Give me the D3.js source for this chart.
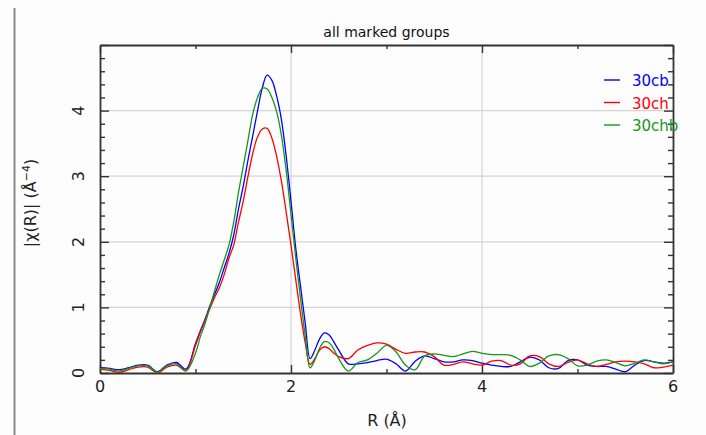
<!DOCTYPE html>
<html><head><meta charset="utf-8">
<script src="https://cdn.jsdelivr.net/npm/d3@7"></script>
<style>
html,body{margin:0;padding:0;background:#fdfdfd;}
svg{display:block;font-family:"DejaVu Sans",sans-serif;}
</style></head>
<body>
<svg id="c" width="706" height="435"></svg>
<script>
const title = "all marked groups";
const seriesNames = ["30cb", "30ch", "30chb"];
const seriesColors = ["#0000ff", "#ff0000", "#16961a"];
const xTicks = [0, 2, 4, 6];
const yTicks = [0, 1, 2, 3, 4];
const R = [0,0.1,0.2,0.3,0.4,0.5,0.6,0.7,0.8,0.9,1.0,
  1.05,1.1,1.15,1.2,1.25,1.3,1.35,1.4,1.45,1.5,1.55,1.6,1.65,1.7,1.75,1.8,1.85,1.9,1.95,2.0,
  2.05,2.1,2.15,2.2,2.25,2.3,2.35,2.4,2.45,2.5,
  2.6,2.7,2.8,2.9,3.0,3.1,3.2,3.3,3.4,3.5,3.6,3.7,3.8,3.9,4.0,
  4.1,4.2,4.3,4.4,4.5,4.6,4.7,4.8,4.9,5.0,5.1,5.2,5.3,5.4,5.5,5.6,5.7,5.8,5.9,6.0];
const cb = [0.08,0.07,0.05,0.08,0.12,0.12,0.02,0.12,0.16,0.06,0.45,
  0.64,0.82,1.02,1.2,1.38,1.6,1.82,2.1,2.5,2.85,3.25,3.62,4.0,4.35,4.54,4.46,4.22,3.86,3.3,2.62,
  1.9,1.32,0.75,0.22,0.35,0.52,0.61,0.58,0.47,0.35,
  0.14,0.14,0.16,0.19,0.21,0.14,0.03,0.18,0.26,0.22,0.17,0.17,0.2,0.19,0.15,
  0.12,0.10,0.10,0.17,0.24,0.2,0.08,0.07,0.19,0.2,0.12,0.10,0.10,0.06,0.02,0.12,0.19,0.17,0.15,0.17];
const ch = [0.06,0.04,0.01,0.05,0.09,0.09,0.0,0.09,0.12,0.04,0.42,
  0.62,0.8,0.98,1.15,1.3,1.5,1.75,1.95,2.3,2.62,3.0,3.35,3.6,3.72,3.73,3.58,3.3,2.92,2.45,1.95,
  1.42,0.9,0.45,0.13,0.22,0.35,0.40,0.37,0.3,0.25,
  0.22,0.35,0.42,0.46,0.44,0.36,0.30,0.32,0.32,0.25,0.12,0.13,0.17,0.14,0.12,
  0.18,0.19,0.12,0.14,0.26,0.25,0.14,0.10,0.16,0.2,0.14,0.10,0.13,0.17,0.18,0.17,0.14,0.08,0.09,0.12];
const chb = [0.07,0.06,0.03,0.07,0.11,0.11,0.01,0.11,0.14,0.03,0.3,
  0.55,0.75,1.0,1.25,1.5,1.72,1.95,2.3,2.75,3.15,3.55,3.95,4.2,4.34,4.33,4.2,3.98,3.62,3.08,2.42,
  1.75,1.13,0.55,0.08,0.2,0.38,0.48,0.46,0.36,0.22,
  0.03,0.16,0.2,0.3,0.42,0.32,0.12,0.05,0.26,0.29,0.27,0.25,0.29,0.33,0.3,
  0.28,0.28,0.27,0.2,0.1,0.15,0.26,0.28,0.22,0.11,0.12,0.18,0.2,0.16,0.11,0.15,0.2,0.17,0.14,0.17];
const seriesValues = [cb, ch, chb];

const svg = d3.select("#c");
const L = 100, T = 45, Rr = 673, B = 373;
const x = d3.scaleLinear().domain([0, 6]).range([L, Rr]);
const y = d3.scaleLinear().domain([0, 5]).range([B, T]);
const axisColor = "#333";

svg.append("line").attr("x1", 14.5).attr("x2", 14.5).attr("y1", 8).attr("y2", 435)
  .attr("stroke", "#8c8a80").attr("stroke-width", 2);

const g = svg.append("g");
g.selectAll(".gx").data(xTicks.filter(d => d > 0 && d < 6)).join("line")
  .attr("x1", d => x(d)).attr("x2", d => x(d)).attr("y1", T).attr("y2", B)
  .attr("stroke", "#d4d4d4").attr("stroke-width", 1.2);
g.selectAll(".gy").data(yTicks.filter(d => d > 0)).join("line")
  .attr("x1", L).attr("x2", Rr).attr("y1", d => y(d)).attr("y2", d => y(d))
  .attr("stroke", "#d4d4d4").attr("stroke-width", 1.2);

const yMinor = d3.range(0, 5.01, 0.2).map(v => +v.toFixed(1));
function styleAxis(sel) {
  sel.select(".domain").attr("stroke", axisColor).attr("stroke-width", 1.8);
  sel.selectAll(".tick line").attr("stroke", axisColor).attr("stroke-width", 1.4);
}
const ay = svg.append("g").attr("transform", `translate(${L},0)`)
  .call(d3.axisRight(y).tickValues(yMinor).tickSize(5).tickSizeOuter(0).tickFormat(""));
ay.selectAll(".tick line").attr("x2", d => Number.isInteger(d) ? 9 : 5);
styleAxis(ay);
const ay2 = svg.append("g").attr("transform", `translate(${Rr},0)`)
  .call(d3.axisLeft(y).tickValues(yMinor).tickSize(5).tickSizeOuter(0).tickFormat(""));
ay2.selectAll(".tick line").attr("x2", d => Number.isInteger(d) ? -9 : -5);
styleAxis(ay2);
const ax = svg.append("g").attr("transform", `translate(0,${B})`)
  .call(d3.axisTop(x).tickValues([0,1,2,3,4,5,6]).tickSize(4).tickSizeOuter(0).tickFormat(""));
ax.selectAll(".tick line").attr("y2", d => d % 2 === 0 ? -8 : -4);
styleAxis(ax);
const ax2 = svg.append("g").attr("transform", `translate(0,${T})`)
  .call(d3.axisBottom(x).tickValues([0,1,2,3,4,5,6]).tickSize(4).tickSizeOuter(0).tickFormat(""));
ax2.selectAll(".tick line").attr("y2", d => d % 2 === 0 ? 8 : 4);
styleAxis(ax2);

svg.append("g").selectAll("text").data(xTicks).join("text")
  .attr("x", d => x(d)).attr("y", 392).attr("text-anchor", "middle")
  .attr("font-size", 16).attr("fill", "#222").text(d => d);
svg.append("g").selectAll("text").data(yTicks).join("text")
  .attr("transform", d => `translate(84,${y(d)}) rotate(-90)`)
  .attr("text-anchor", "middle").attr("font-size", 16).attr("fill", "#222").text(d => d);

svg.append("text").attr("x", (L + Rr) / 2).attr("y", 37).attr("text-anchor", "middle")
  .attr("font-size", 14).attr("fill", "#111").text(title);
svg.append("text").attr("x", 387).attr("y", 426).attr("text-anchor", "middle")
  .attr("font-size", 16).attr("fill", "#222").text("R (Å)");
const yl = svg.append("text").attr("transform", `translate(36,203) rotate(-90)`)
  .attr("text-anchor", "middle").attr("font-size", 16).attr("fill", "#222");
yl.append("tspan").text("|χ(R)| (Å");
yl.append("tspan").attr("font-size", 11).attr("dy", -6).text("−4");
yl.append("tspan").attr("dy", 6).text(")");

const line = d3.line().x((d, i) => x(R[i])).y(d => y(d)).curve(d3.curveCatmullRom.alpha(0.5));
svg.append("g").selectAll("path").data(seriesValues).join("path")
  .attr("d", d => line(d)).attr("fill", "none")
  .attr("stroke", (d, i) => seriesColors[i]).attr("stroke-width", 1.3);

const lg = svg.append("g");
seriesNames.forEach((n, i) => {
  const yy = 80 + i * 22.5;
  lg.append("line").attr("x1", 604).attr("x2", 620).attr("y1", yy).attr("y2", yy)
    .attr("stroke", seriesColors[i]).attr("stroke-width", 1.4);
  lg.append("text").attr("x", 632).attr("y", yy + 6).attr("font-size", 15)
    .attr("fill", seriesColors[i]).text(n);
});
</script>
</body></html>
